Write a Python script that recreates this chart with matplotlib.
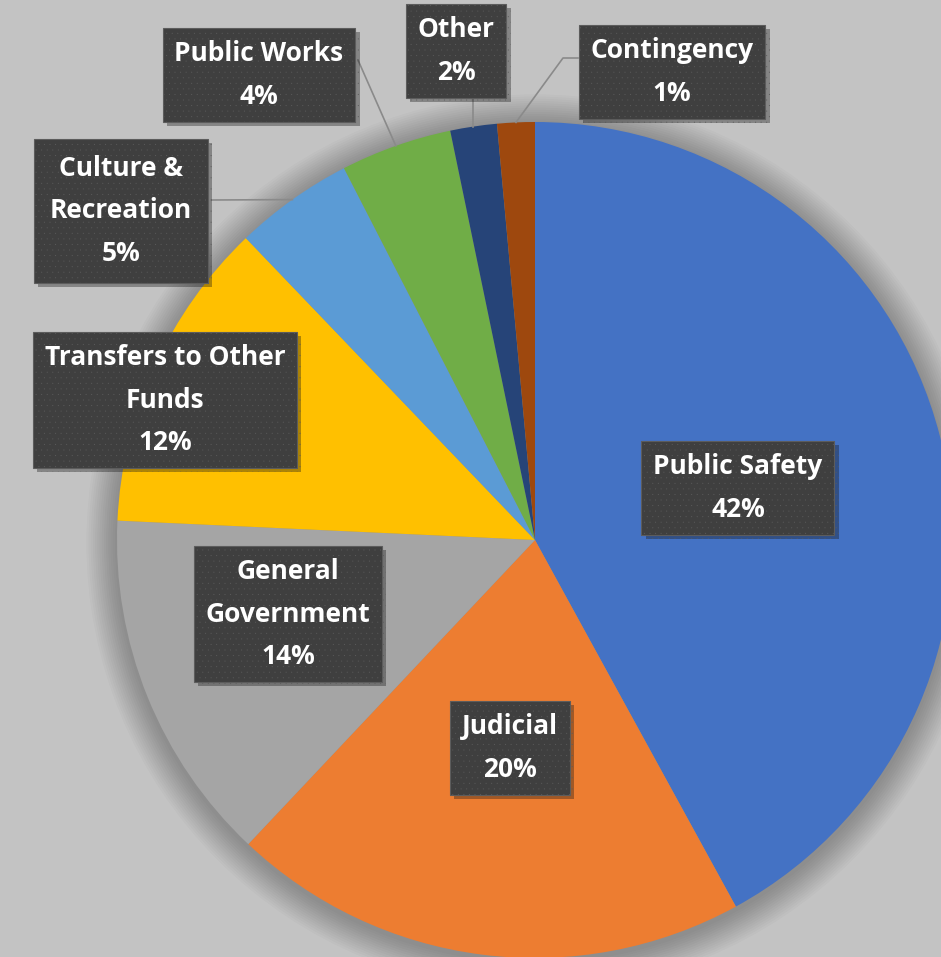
import numpy as np
import matplotlib.pyplot as plt
import matplotlib.patheffects as pe
from matplotlib.patches import Circle

categories = ["Public Safety", "Judicial", "General\nGovernment",
              "Transfers to Other\nFunds", "Culture &\nRecreation",
              "Public Works", "Other", "Contingency"]
shares = [42.0, 20.0, 13.7, 12.1, 4.6, 4.3, 1.8, 1.45]
colors = ["#4472C4", "#ED7D31", "#A5A5A5", "#FFC000",
          "#5B9BD5", "#70AD47", "#264478", "#9E480E"]

# label box centres in pixel coords (y from top)
label_pos = [(738, 488), (510, 748), (288, 614), (165, 400),
             (121, 211), (259, 75), (456, 51), (672, 72)]
# where the leader line meets the box (None = no leader)
leader_box = [None, None, None, None,
              [(212, 200)], [(358, 60)], [(None, 98)], [(563, 58), (578, 58)]]

W, H = 941, 957
CX, CY, R = 535, H - 540, 418


def main():
    plt.rcParams['font.family'] = ['Open Sans', 'DejaVu Sans']
    plt.rcParams['hatch.linewidth'] = 0.0

    fig = plt.figure(figsize=(W / 100, H / 100), dpi=100)
    fig.patch.set_facecolor("#c3c3c3")
    ax = fig.add_axes([0, 0, 1, 1])

    # soft shadow round the pie
    for i in range(14):
        ax.add_patch(Circle((CX, CY - 3), R + 2 + i * 2.2,
                            color="black", alpha=0.018, lw=0, zorder=0))

    wedges, _ = ax.pie(shares, colors=colors, startangle=90,
                       counterclock=False, center=(CX, CY), radius=R,
                       wedgeprops=dict(linewidth=0), frame=True)
    ax.set_xlim(0, W)
    ax.set_ylim(0, H)
    ax.set_aspect('equal')
    ax.axis('off')

    for w, name, val, (bx, by), lead in zip(wedges, categories, shares,
                                             label_pos, leader_box):
        if lead is not None:
            mid = np.deg2rad((w.theta1 + w.theta2) / 2)
            ax_x = CX + R * np.cos(mid)
            ax_y = CY + R * np.sin(mid)
            xs = [ax_x]
            ys = [ax_y]
            for px, py in lead:
                xs.append(ax_x if px is None else px)
                ys.append(H - py)
            ax.plot(xs, ys, color="#8a8a8a", lw=1.2, zorder=3)

        # culture box is drawn a touch wider in the original
        pad = 0.6 if name.startswith("Culture") else 0.45
        t = ax.text(bx, H - by, f"{name}\n{val:.0f}%", ha='center',
                    va='center', color='white', fontsize=19,
                    fontweight='bold', linespacing=1.75, zorder=5,
                    bbox=dict(boxstyle=f'square,pad={pad}',
                              facecolor='#3f3f3f', edgecolor='#5c5c5c',
                              linewidth=0.8, hatch='...'))
        t.get_bbox_patch().set_path_effects(
            [pe.SimplePatchShadow(offset=(3, -3), alpha=0.35), pe.Normal()])

    fig.savefig("out.png", dpi=100, facecolor=fig.get_facecolor())


if __name__ == "__main__":
    main()
